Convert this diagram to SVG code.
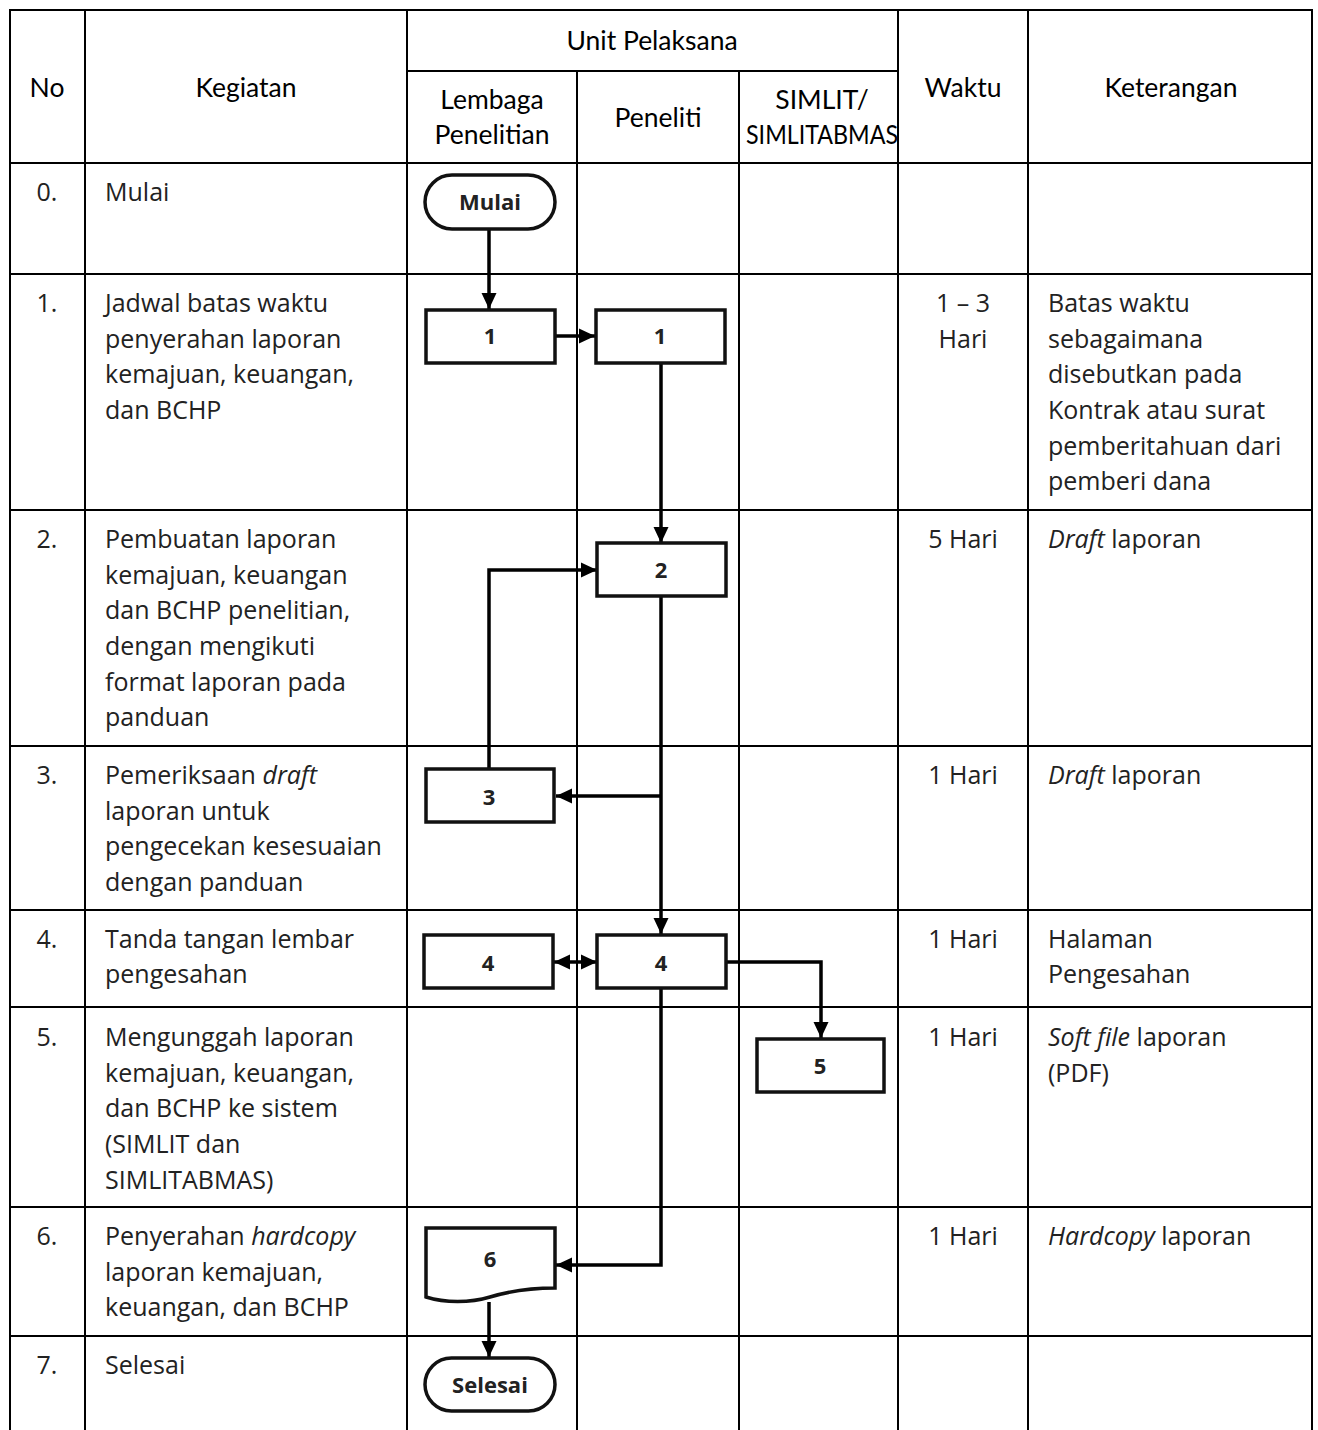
<svg xmlns="http://www.w3.org/2000/svg" width="1318" height="1430" viewBox="0 0 1318 1430">
<style>
.grid{stroke:#000;stroke-width:2;fill:none}
.hd{font-family:Lato,"Open Sans",sans-serif;font-size:26.5px;fill:#000;text-anchor:middle}
.tx{font-family:"Open Sans","Liberation Sans",sans-serif;font-size:25px;fill:#222}
.c{text-anchor:middle}
.it{font-style:italic}
.nd{fill:#fff;stroke:#111;stroke-width:3.5}
.nl{font-family:"Open Sans","Liberation Sans",sans-serif;font-size:22px;font-weight:bold;fill:#222;text-anchor:middle}
.cn{stroke:#000;stroke-width:3.5;fill:none}
</style>
<defs>
<marker id="ah" markerUnits="userSpaceOnUse" markerWidth="17" markerHeight="17" refX="16" refY="8.5" orient="auto-start-reverse" viewBox="0 0 17 17">
<path d="M0,1 L16,8.5 L0,16 Z" fill="#000"/>
</marker>
</defs>
<rect width="1318" height="1430" fill="#fff"/>
<g id="table">
<path class="grid" d="M10,1430 V10 H1312 V1430 M85,10 V1430 M407,10 V1430 M898,10 V1430 M1028,10 V1430 M407,71 H898 M577,71 V1430 M739,71 V1430 M10,163 H1312 M10,274 H1312 M10,510 H1312 M10,746 H1312 M10,910 H1312 M10,1007 H1312 M10,1207 H1312 M10,1336 H1312"/>
<text class="hd" x="47" y="97">No</text>
<text class="hd" x="246" y="97">Kegiatan</text>
<text class="hd" x="652" y="50">Unit Pelaksana</text>
<text class="hd" x="492" y="109">Lembaga</text>
<text class="hd" x="492" y="144">Penelitian</text>
<text class="hd" x="658" y="127">Peneliti</text>
<text class="hd" x="822" y="109">SIMLIT/</text>
<text class="hd" x="822" y="144" textLength="152" lengthAdjust="spacingAndGlyphs">SIMLITABMAS</text>
<text class="hd" x="963" y="97">Waktu</text>
<text class="hd" x="1171" y="97">Keterangan</text>
</g>
<g id="rows">
<text class="tx c" x="47" y="201">0.</text>
<text class="tx" x="105" y="201">Mulai</text>

<text class="tx c" x="47" y="312">1.</text>
<text class="tx" x="105" y="312">Jadwal batas waktu</text>
<text class="tx" x="105" y="348">penyerahan laporan</text>
<text class="tx" x="105" y="383">kemajuan, keuangan,</text>
<text class="tx" x="105" y="419">dan BCHP</text>
<text class="tx c" x="963" y="312">1 – 3</text>
<text class="tx c" x="963" y="348">Hari</text>
<text class="tx" x="1048" y="312">Batas waktu</text>
<text class="tx" x="1048" y="348">sebagaimana</text>
<text class="tx" x="1048" y="383">disebutkan pada</text>
<text class="tx" x="1048" y="419">Kontrak atau surat</text>
<text class="tx" x="1048" y="455">pemberitahuan dari</text>
<text class="tx" x="1048" y="490">pemberi dana</text>

<text class="tx c" x="47" y="548">2.</text>
<text class="tx" x="105" y="548">Pembuatan laporan</text>
<text class="tx" x="105" y="584">kemajuan, keuangan</text>
<text class="tx" x="105" y="619">dan BCHP penelitian,</text>
<text class="tx" x="105" y="655">dengan mengikuti</text>
<text class="tx" x="105" y="691">format laporan pada</text>
<text class="tx" x="105" y="726">panduan</text>
<text class="tx c" x="963" y="548">5 Hari</text>
<text class="tx" x="1048" y="548"><tspan class="it">Draft</tspan> laporan</text>

<text class="tx c" x="47" y="784">3.</text>
<text class="tx" x="105" y="784">Pemeriksaan <tspan class="it">draft</tspan></text>
<text class="tx" x="105" y="820">laporan untuk</text>
<text class="tx" x="105" y="855">pengecekan kesesuaian</text>
<text class="tx" x="105" y="891">dengan panduan</text>
<text class="tx c" x="963" y="784">1 Hari</text>
<text class="tx" x="1048" y="784"><tspan class="it">Draft</tspan> laporan</text>

<text class="tx c" x="47" y="948">4.</text>
<text class="tx" x="105" y="948">Tanda tangan lembar</text>
<text class="tx" x="105" y="983">pengesahan</text>
<text class="tx c" x="963" y="948">1 Hari</text>
<text class="tx" x="1048" y="948">Halaman</text>
<text class="tx" x="1048" y="983">Pengesahan</text>

<text class="tx c" x="47" y="1046">5.</text>
<text class="tx" x="105" y="1046">Mengunggah laporan</text>
<text class="tx" x="105" y="1082">kemajuan, keuangan,</text>
<text class="tx" x="105" y="1117">dan BCHP ke sistem</text>
<text class="tx" x="105" y="1153">(SIMLIT dan</text>
<text class="tx" x="105" y="1189">SIMLITABMAS)</text>
<text class="tx c" x="963" y="1046">1 Hari</text>
<text class="tx" x="1048" y="1046"><tspan class="it">Soft file</tspan> laporan</text>
<text class="tx" x="1048" y="1082">(PDF)</text>

<text class="tx c" x="47" y="1245">6.</text>
<text class="tx" x="105" y="1245">Penyerahan <tspan class="it">hardcopy</tspan></text>
<text class="tx" x="105" y="1281">laporan kemajuan,</text>
<text class="tx" x="105" y="1316">keuangan, dan BCHP</text>
<text class="tx c" x="963" y="1245">1 Hari</text>
<text class="tx" x="1048" y="1245"><tspan class="it">Hardcopy</tspan> laporan</text>

<text class="tx c" x="47" y="1374">7.</text>
<text class="tx" x="105" y="1374">Selesai</text>
</g>
<g id="connectors">
<path class="cn" d="M489,229 V309" marker-end="url(#ah)"/>
<path class="cn" d="M556,336 H595" marker-end="url(#ah)"/>
<path class="cn" d="M661,363 V543" marker-end="url(#ah)"/>
<path class="cn" d="M661,597 V934" marker-end="url(#ah)"/>
<path class="cn" d="M661,796 H556" marker-end="url(#ah)"/>
<path class="cn" d="M489,768 V570 H597" marker-end="url(#ah)"/>
<path class="cn" d="M554,962 H597" marker-start="url(#ah)" marker-end="url(#ah)"/>
<path class="cn" d="M727,962 H821 V1038" marker-end="url(#ah)"/>
<path class="cn" d="M661,989 V1265 H556" marker-end="url(#ah)"/>
<path class="cn" d="M489,1302 V1357" marker-end="url(#ah)"/>
</g>
<g id="n-mulai"><rect class="nd" x="425" y="175" width="130" height="54" rx="27"/><text class="nl" x="490" y="210">Mulai</text></g>
<g id="n-l1"><rect class="nd" x="426" y="310" width="129" height="53"/><text class="nl" x="490" y="344">1</text></g>
<g id="n-p1"><rect class="nd" x="596" y="310" width="129" height="53"/><text class="nl" x="660" y="344">1</text></g>
<g id="n-p2"><rect class="nd" x="597" y="543" width="129" height="53"/><text class="nl" x="661" y="578">2</text></g>
<g id="n-l3"><rect class="nd" x="426" y="769" width="128" height="53"/><text class="nl" x="489" y="805">3</text></g>
<g id="n-l4"><rect class="nd" x="424" y="935" width="129" height="53"/><text class="nl" x="488" y="971">4</text></g>
<g id="n-p4"><rect class="nd" x="597" y="935" width="129" height="53"/><text class="nl" x="661" y="971">4</text></g>
<g id="n-s5"><rect class="nd" x="757" y="1039" width="127" height="53"/><text class="nl" x="820" y="1074">5</text></g>
<g id="n-d6"><path class="nd" d="M426,1228 H555 V1288 C530,1288 510,1291 490,1297 C470,1303 445,1303 426,1297 Z"/><text class="nl" x="490" y="1267">6</text></g>
<g id="n-selesai"><rect class="nd" x="425" y="1358" width="130" height="53" rx="26.5"/><text class="nl" x="490" y="1393">Selesai</text></g>
</svg>
